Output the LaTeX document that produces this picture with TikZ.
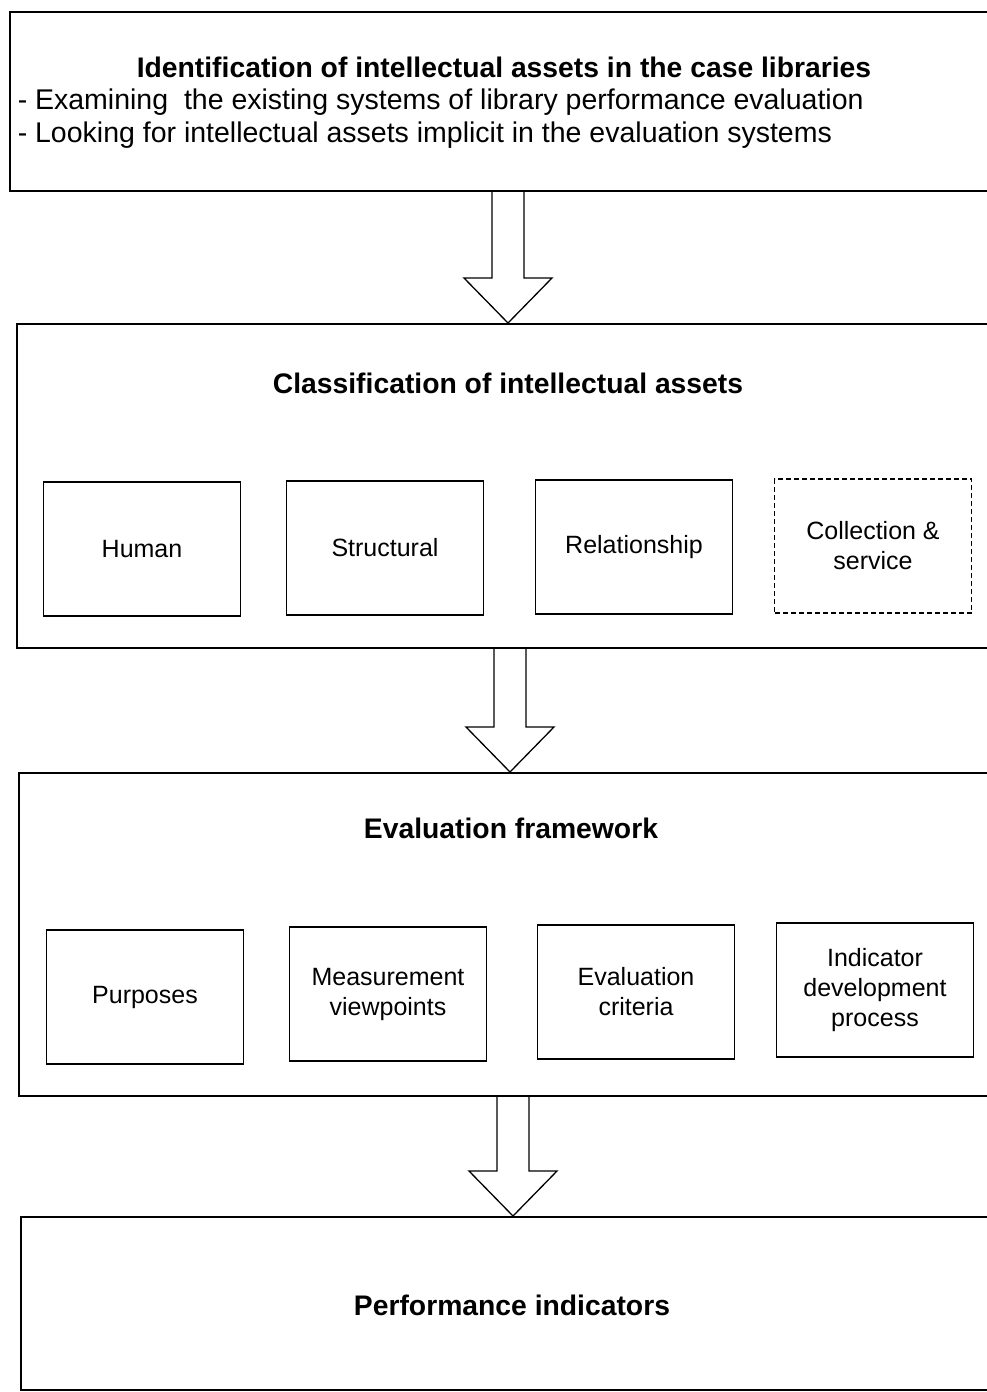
\documentclass[tikz,border=0pt]{standalone}
\usepackage{fontspec}
\setmainfont{Liberation Sans}
\usetikzlibrary{calc}
\begin{document}
\begin{tikzpicture}[x=1pt,y=-1pt,
  line width=1.5pt,
  stage/.style={draw, rectangle, anchor=north west, inner sep=0pt, minimum width=1010},
  part/.style={draw, rectangle, minimum width=197, minimum height=134, align=center, inner sep=2pt,
    font=\fontsize{25}{30}\selectfont},
  optpart/.style={part, dashed, dash pattern=on 5pt off 3pt, line width=1.2pt},
  heading/.style={font=\fontsize{28.3}{33}\bfseries\selectfont, inner sep=0pt},
  bullet/.style={font=\fontsize{28.5}{33}\selectfont, anchor=west, inner sep=0pt},
  blockarrow/.style={draw, line width=1.3pt, line join=miter}
]
\useasboundingbox (0,0) rectangle (987,1392);
\clip (0,0) rectangle (987,1392);

% stage frames (they run off the right edge)
\node[stage, minimum height=179] (s1) at (9,11) {};
\node[stage, minimum height=324] (s2) at (16,323) {};
\node[stage, minimum height=323] (s3) at (18,772) {};
\node[stage, minimum height=173] (s4) at (20,1216) {};

% stage 1 text
\node[heading] (t1) at (504,67) {Identification of intellectual assets in the case libraries};
\node[bullet] (b1) at (17,102) {- Examining~ the existing systems of library performance evaluation};
\node[bullet] (b2) at (17,135) {- Looking for intellectual assets implicit in the evaluation systems};

% stage 2
\node[heading] (t2) at (508,383) {Classification of intellectual assets};
\node[part] (human) at (142,549) {Human};
\node[part] (struct) at (385,548) {Structural};
\node[part] (relat) at (634,547) {Relationship};
\node[optpart] (coll) at (873,546) {Collection \&\\service};

% stage 3
\node[heading] (t3) at (511,828) {Evaluation framework};
\node[part] (purp) at (145,997) {Purposes};
\node[part] (meas) at (388,994) {Measurement\\viewpoints};
\node[part] (crit) at (636,992) {Evaluation\\criteria};
\node[part] (indic) at (875,990) {Indicator\\development\\process};

% stage 4
\node[heading] (t4) at (512,1305) {Performance indicators};

% block arrows between stages
\coordinate (a1) at (508,0);
\coordinate (a2) at (510,0);
\coordinate (a3) at (513,0);
\foreach \src/\dst/\ax in {s1/s2/a1, s2/s3/a2, s3/s4/a3}{
  \draw[blockarrow]
    ($(\src.south -| \ax)+(-16,0)$) -- ($(\dst.north -| \ax)+(-16,-45)$)
    -- ($(\dst.north -| \ax)+(-44,-45)$) -- (\dst.north -| \ax)
    -- ($(\dst.north -| \ax)+(44,-45)$) -- ($(\dst.north -| \ax)+(16,-45)$)
    -- ($(\src.south -| \ax)+(16,0)$);
}
\end{tikzpicture}
\end{document}
